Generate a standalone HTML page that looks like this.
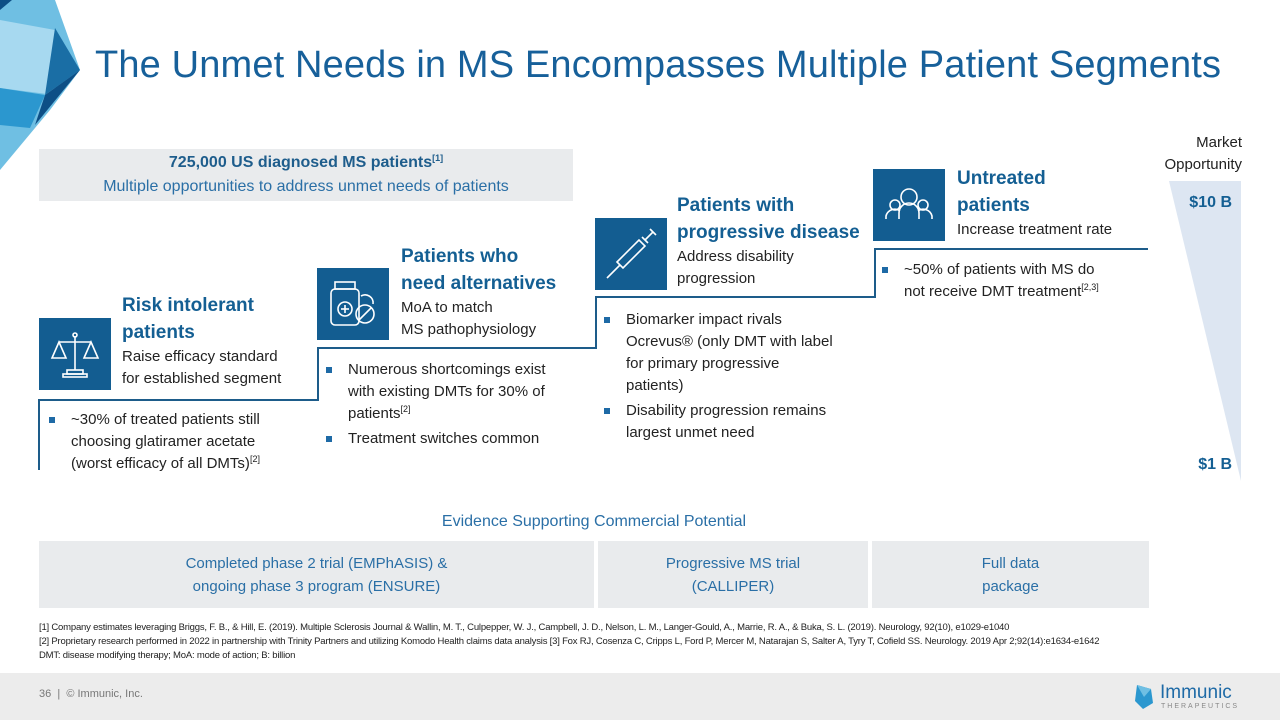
<!DOCTYPE html>
<html><head><meta charset="utf-8"><style>
*{margin:0;padding:0;box-sizing:border-box}
body{width:1280px;height:720px;position:relative;overflow:hidden;background:#fff;font-family:"Liberation Sans",sans-serif;color:#222}
.a{position:absolute}
.t{color:#145f93;font-weight:bold;font-size:19px;line-height:27px}
.s{font-size:15px;line-height:22px;color:#222}
.ic{position:absolute;width:72px;height:72px;background:#135d91}
.ln{position:absolute;background:#1d5c8a}
ul{list-style:none}
li{position:relative;padding-left:24px;font-size:15px;line-height:22px;color:#222}
li:before{content:"";position:absolute;left:2px;top:8px;width:6px;height:6px;background:#1e6aa6}
sup{font-size:9px;line-height:0;vertical-align:6px}
.box{position:absolute;top:541px;height:67px;background:#e9ebed;color:#2a6fa6;font-size:15px;line-height:23px;text-align:center;display:flex;align-items:center;justify-content:center}
</style></head><body>
<svg class="a" style="left:0;top:0" width="90" height="170" viewBox="0 0 90 170">
<polygon points="0,0 55,0 80,70 50,110 0,170" fill="#6fbfe3"/>
<polygon points="0,20 55,30 55,95 0,88" fill="#a7d9f0"/>
<polygon points="55,28 80,70 45,95" fill="#1a6ea5"/>
<polygon points="80,70 35,125 45,95" fill="#0d4f86"/>
<polygon points="0,88 45,95 30,128 0,125" fill="#2b97cf"/>
<polygon points="0,0 12,0 0,10" fill="#0d4f86"/>
</svg>
<div class="a" style="left:95px;top:44px;font-size:38px;color:#17609a;letter-spacing:0.15px;white-space:nowrap">The Unmet Needs in MS Encompasses Multiple Patient Segments</div>

<div class="a" style="left:39px;top:149px;width:534px;height:52px;background:#e9ebed;text-align:center;color:#1e5d8c">
<div style="font-weight:bold;font-size:16px;line-height:24px;margin-top:2px">725,000 US diagnosed MS patients<sup>[1]</sup></div>
<div style="font-size:16px;line-height:24px;color:#2a6fa6">Multiple opportunities to address unmet needs of patients</div></div>

<div class="a" style="left:1130px;top:132px;width:112px;text-align:right;font-size:15px;line-height:22px">Market<br>Opportunity</div>
<svg class="a" style="left:1165px;top:181px" width="80" height="300"><polygon points="4,0 76,0 76,300" fill="#dde6f2"/></svg>
<div class="a" style="left:1160px;top:194px;width:72px;text-align:right;color:#145f93;font-weight:bold;font-size:16px">$10 B</div>
<div class="a" style="left:1160px;top:456px;width:72px;text-align:right;color:#145f93;font-weight:bold;font-size:16px">$1 B</div>

<div class="ln" style="left:38px;top:399px;width:2px;height:71px"></div>
<div class="ln" style="left:38px;top:399px;width:281px;height:2px"></div>
<div class="ln" style="left:317px;top:347px;width:2px;height:54px"></div>
<div class="ln" style="left:317px;top:347px;width:280px;height:2px"></div>
<div class="ln" style="left:595px;top:296px;width:2px;height:53px"></div>
<div class="ln" style="left:595px;top:296px;width:281px;height:2px"></div>
<div class="ln" style="left:874px;top:248px;width:2px;height:50px"></div>
<div class="ln" style="left:874px;top:248px;width:274px;height:2px"></div>

<div class="ic" style="left:39px;top:318px"><svg width="72" height="72" viewBox="0 0 72 72" fill="none" stroke="#fff" stroke-width="1.6"><line x1="36" y1="18" x2="36" y2="52"/><line x1="20" y1="24" x2="52" y2="24"/><path d="M20 24 L13 40 H27 Z M52 24 L45 40 H59 Z"/><rect x="28" y="52" width="16" height="4"/><rect x="24" y="56" width="24" height="3"/><circle cx="36" cy="17" r="2"/></svg></div>
<div class="ic" style="left:317px;top:268px"><svg width="72" height="72" viewBox="0 0 72 72" fill="none" stroke="#fff" stroke-width="1.6"><rect x="18" y="14" width="20" height="7"/><rect x="14" y="21" width="28" height="36" rx="4"/><circle cx="28" cy="41" r="7"/><line x1="24" y1="41" x2="32" y2="41"/><line x1="28" y1="37" x2="28" y2="45"/><circle cx="48" cy="46" r="9"/><line x1="42" y1="52" x2="54" y2="40"/><path d="M44 28 a8 8 0 0 1 12 8"/></svg></div>
<div class="ic" style="left:595px;top:218px"><svg width="72" height="72" viewBox="0 0 72 72" fill="none" stroke="#fff" stroke-width="1.6"><path d="M22 44 L44 22 L50 28 L28 50 Z"/><line x1="47" y1="19" x2="53" y2="25"/><line x1="50" y1="22" x2="58" y2="14"/><line x1="55" y1="11" x2="61" y2="17"/><line x1="25" y1="47" x2="12" y2="60"/></svg></div>
<div class="ic" style="left:873px;top:169px"><svg width="72" height="72" viewBox="0 0 72 72" fill="none" stroke="#fff" stroke-width="1.6"><circle cx="36" cy="28" r="8"/><circle cx="22" cy="36" r="5"/><circle cx="50" cy="36" r="5"/><path d="M26 50 v-6 a10 10 0 0 1 20 0 v6 M13 50 v-3 a9 9 0 0 1 14-5 M45 42 a9 9 0 0 1 14 5 v3"/></svg></div>

<div class="a" style="left:122px;top:292px"><div class="t">Risk intolerant<br>patients</div><div class="s">Raise efficacy standard<br>for established segment</div></div>
<ul class="a" style="left:47px;top:409px;width:265px"><li>~30% of treated patients still<br>choosing glatiramer acetate<br>(worst efficacy of all DMTs)<sup>[2]</sup></li></ul>
<div class="a" style="left:401px;top:243px"><div class="t">Patients who<br>need alternatives</div><div class="s">MoA to match<br>MS pathophysiology</div></div>
<ul class="a" style="left:324px;top:359px;width:268px"><li>Numerous shortcomings exist<br>with existing DMTs for 30% of<br>patients<sup>[2]</sup></li><li style="margin-top:3px">Treatment switches common</li></ul>
<div class="a" style="left:677px;top:192px"><div class="t">Patients with<br>progressive disease</div><div class="s">Address disability<br>progression</div></div>
<ul class="a" style="left:602px;top:309px;width:270px"><li>Biomarker impact rivals<br>Ocrevus® (only DMT with label<br>for primary progressive<br>patients)</li><li style="margin-top:3px">Disability progression remains<br>largest unmet need</li></ul>
<div class="a" style="left:957px;top:165px"><div class="t">Untreated<br>patients</div><div class="s">Increase treatment rate</div></div>
<ul class="a" style="left:880px;top:259px;width:268px"><li>~50% of patients with MS do<br>not receive DMT treatment<sup>[2,3]</sup></li></ul>

<div class="a" style="left:0;width:1188px;top:513px;text-align:center;color:#2a6fa6;font-size:16px">Evidence Supporting Commercial Potential</div>
<div class="box" style="left:39px;width:555px">Completed phase 2 trial (EMPhASIS) &amp;<br>ongoing phase 3 program (ENSURE)</div>
<div class="box" style="left:598px;width:270px">Progressive MS trial<br>(CALLIPER)</div>
<div class="box" style="left:872px;width:277px">Full data<br>package</div>

<div class="a" style="left:39px;top:621px;font-size:9.5px;line-height:14px;color:#222;white-space:nowrap;letter-spacing:-0.2px">[1] Company estimates leveraging Briggs, F. B., &amp; Hill, E. (2019). Multiple Sclerosis Journal &amp; Wallin, M. T., Culpepper, W. J., Campbell, J. D., Nelson, L. M., Langer-Gould, A., Marrie, R. A., &amp; Buka, S. L. (2019). Neurology, 92(10), e1029-e1040<br>[2] Proprietary research performed in 2022 in partnership with Trinity Partners and utilizing Komodo Health claims data analysis [3] Fox RJ, Cosenza C, Cripps L, Ford P, Mercer M, Natarajan S, Salter A, Tyry T, Cofield SS. Neurology. 2019 Apr 2;92(14):e1634-e1642<br>DMT: disease modifying therapy; MoA: mode of action; B: billion</div>

<div class="a" style="left:0;top:673px;width:1280px;height:47px;background:#ececec"></div>
<div class="a" style="left:39px;top:688px;font-size:11px;color:#777">36 &nbsp;| &nbsp;© Immunic, Inc.</div>
<svg class="a" style="left:1133px;top:683px" width="22" height="28"><polygon points="4,2 18,6 20,20 10,26 2,18" fill="#2b97cf"/><polygon points="4,2 18,6 11,14" fill="#6fbfe3"/></svg>
<div class="a" style="left:1160px;top:682px;font-size:19px;color:#1e6aa6">Immunic</div>
<div class="a" style="left:1161px;top:703px;font-size:7px;letter-spacing:2px;color:#888">THERAPEUTICS</div>
</body></html>
